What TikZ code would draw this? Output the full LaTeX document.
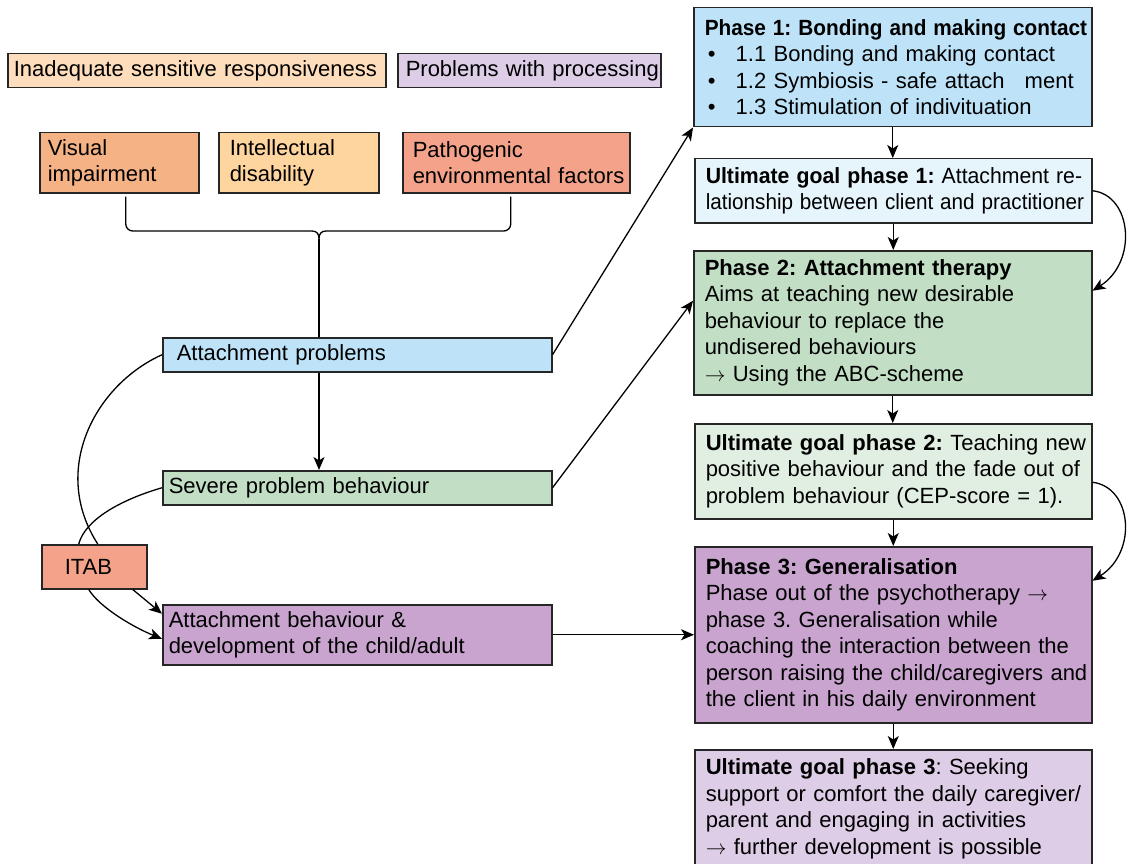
\documentclass[tikz,border=0pt]{standalone}
\usepackage{fontspec}
\usepackage{graphicx}
\setmainfont{Liberation Sans}
\frenchspacing
\usetikzlibrary{arrows.meta,calc}
\definecolor{cPeach}{HTML}{FDDDBC}
\definecolor{cLav}{HTML}{DDCDE6}
\definecolor{cOrange}{HTML}{F5B285}
\definecolor{cYellow}{HTML}{FED59E}
\definecolor{cSalmon}{HTML}{F4A38A}
\definecolor{cBlue}{HTML}{BEE3F8}
\definecolor{cBlueL}{HTML}{E6F4FC}
\definecolor{cGreen}{HTML}{C2DFC6}
\definecolor{cGreenL}{HTML}{E1EFE2}
\definecolor{cPurple}{HTML}{C8A4CF}
\begin{document}
\begin{tikzpicture}[x=1pt,y=-1pt,
  bx/.style={draw=black!85, line width=1.5pt, anchor=north west, align=left,
    inner ysep=0pt, font=\fontsize{22pt}{26.5pt}\selectfont\frenchspacing},
  arr/.style={line width=1.3pt, -{Stealth[length=13pt,width=11pt,inset=3.5pt]}},
  ln/.style={line width=1.3pt}]
\useasboundingbox (0,0) rectangle (1127,864);
\clip (0,0) rectangle (1127,864);

% legend
\node[bx, fill=cPeach, minimum width=378pt, minimum height=34pt, inner xsep=6pt, text width=366pt] (leg1) at (7,53) {\mbox{Inadequate sensitive responsiveness}};
\node[bx, fill=cLav, minimum width=263pt, minimum height=34pt, inner xsep=8pt, text width=247pt] (leg2) at (397,53) {\mbox{Problems with processing}};

% causes
\node[bx, fill=cOrange, minimum width=159pt, minimum height=60pt, inner xsep=8pt, text width=143pt] (vis) at (39,132) {\mbox{Visual}\\\mbox{impairment}};
\node[bx, fill=cYellow, minimum width=160pt, minimum height=60pt, inner xsep=11pt, text width=138pt] (intel) at (218,132) {\mbox{Intellectual}\\\mbox{disability}};
\node[bx, fill=cSalmon, minimum width=227pt, minimum height=60pt, inner xsep=10pt, text width=207pt] (path) at (402,132) {\mbox{Pathogenic}\\\mbox{environmental factors}};

% left column
\node[bx, fill=cBlue, minimum width=389pt, minimum height=34pt, inner xsep=14pt, text width=361pt] (ap) at (162,337) {\mbox{Attachment problems}};
\node[bx, fill=cGreen, minimum width=389pt, minimum height=34pt, inner xsep=6pt, text width=377pt] (spb) at (162,470) {\mbox{Severe problem behaviour}};
\node[bx, fill=cSalmon, minimum width=105pt, minimum height=44pt, inner xsep=23pt, text width=59pt] (itab) at (41,544) {\mbox{ITAB}};
\node[bx, fill=cPurple, minimum width=389pt, minimum height=60pt, inner xsep=6pt, text width=377pt] (ab) at (162,604) {\mbox{Attachment behaviour \&}\\\mbox{development of the child/adult}};

% right column
\node[bx, fill=cBlue, minimum width=398pt, minimum height=119pt, inner xsep=11pt, text width=376pt] (p1) at (693,7)
 {\mbox{\scalebox{0.945}[1]{\bfseries Phase 1: Bonding and making contact}}\\
  \mbox{\hspace*{3pt}\makebox[28pt][l]{\textbullet}1.1 Bonding and making contact}\\
  \mbox{\hspace*{3pt}\makebox[28pt][l]{\textbullet}1.2 Symbiosis - safe attach\hspace{20pt}ment}\\
  \mbox{\hspace*{3pt}\makebox[28pt][l]{\textbullet}1.3 Stimulation of indivituation}};
\node[bx, fill=cBlueL, minimum width=397pt, minimum height=64pt, inner xsep=11pt, text width=375pt] (u1) at (694,158)
 {\mbox{\scalebox{0.965}[1]{\textbf{Ultimate goal phase 1:} Attachment re-}}\\
  \mbox{\scalebox{0.94}[1]{lationship between client and practitioner}}};
\node[bx, fill=cGreen, minimum width=398pt, minimum height=144pt, inner xsep=11pt, text width=376pt] (p2) at (693,250)
 {\mbox{\bfseries Phase 2: Attachment therapy}\\
  \mbox{Aims at teaching new desirable}\\
  \mbox{behaviour to replace the}\\
  \mbox{undisered behaviours}\\
  \mbox{$\rightarrow$ Using the ABC-scheme}};
\node[bx, fill=cGreenL, minimum width=397pt, minimum height=95pt, inner xsep=11pt, text width=375pt] (u2) at (694,423)
 {\mbox{\textbf{Ultimate goal phase 2:} Teaching new}\\
  \mbox{positive behaviour and the fade out of}\\
  \mbox{problem behaviour (CEP-score = 1).}};
\node[bx, fill=cPurple, minimum width=397pt, minimum height=176pt, inner xsep=11pt, text width=375pt] (p3) at (694,546)
 {\mbox{\bfseries Phase 3: Generalisation}\\
  \mbox{Phase out of the psychotherapy $\rightarrow$}\\
  \mbox{phase 3. Generalisation while}\\
  \mbox{coaching the interaction between the}\\
  \mbox{person raising the child/caregivers and}\\
  \mbox{the client in his daily environment}};
\node[bx, fill=cLav, minimum width=397pt, minimum height=118pt, inner xsep=11pt, text width=375pt] (u3) at (694,749)
 {\mbox{\textbf{Ultimate goal phase 3}: Seeking}\\
  \mbox{support or comfort the daily caregiver/}\\
  \mbox{parent and engaging in activities}\\
  \mbox{$\rightarrow$ further development is possible}};

% brace
\coordinate (bL) at (312,231);
\coordinate (bR) at (326,231);
\coordinate (bC) at (319,239);
\draw[ln, rounded corners=7pt] ([xshift=6.5pt,yshift=-3pt]vis.south) |- (bL);
\draw[ln, rounded corners=7pt] ([xshift=-5.5pt,yshift=-3pt]path.south) |- (bR);
\draw[ln] (bL) .. controls (317,231) and (319,234) .. (bC) .. controls (319,234) and (321,231) .. (bR);
\draw[ln] (bC) -- (bC |- ap.north);
\draw[arr] (bC |- ap.south) -- (bC |- spb.north);

% to phases
\draw[arr] (ap.east) -- (p1.south west);
\draw[arr] (spb.east) -- ([yshift=22pt]p2.west);
\draw[arr] (ab.east) -- (ab.east -| p3.west);

% right column verticals
\draw[arr] (p1.south) -- (p1.south |- u1.north);
\draw[arr] (u1.south) -- (u1.south |- p2.north);
\draw[arr] (p2.south) -- (p2.south |- u2.north);
\draw[arr] (u2.south) -- (u2.south |- p3.north);
\draw[arr] (p3.south) -- (p3.south |- u3.north);

% right curves
\draw[arr] (u1.east) .. controls (1132,195) and (1138,262) .. ([yshift=32pt]p2.east);
\draw[arr] ([yshift=-11pt]u2.east) .. controls (1132,487) and (1138,552) .. ([yshift=54pt]p3.east);

% left curves
\draw[ln] (ap.west) .. controls (95,385) and (50,470) .. ([xshift=3.5pt]itab.north);
\draw[ln] (spb.west) .. controls (120,500) and (85,520) .. ([xshift=-15.5pt]itab.north);
\draw[arr] ([xshift=38.5pt]itab.south) -- ([yshift=21pt]ab.west);
\draw[arr] ([xshift=-5.5pt]itab.south) .. controls (100,608) and (135,628) .. ([yshift=-4pt]ab.west);
\end{tikzpicture}
\end{document}
